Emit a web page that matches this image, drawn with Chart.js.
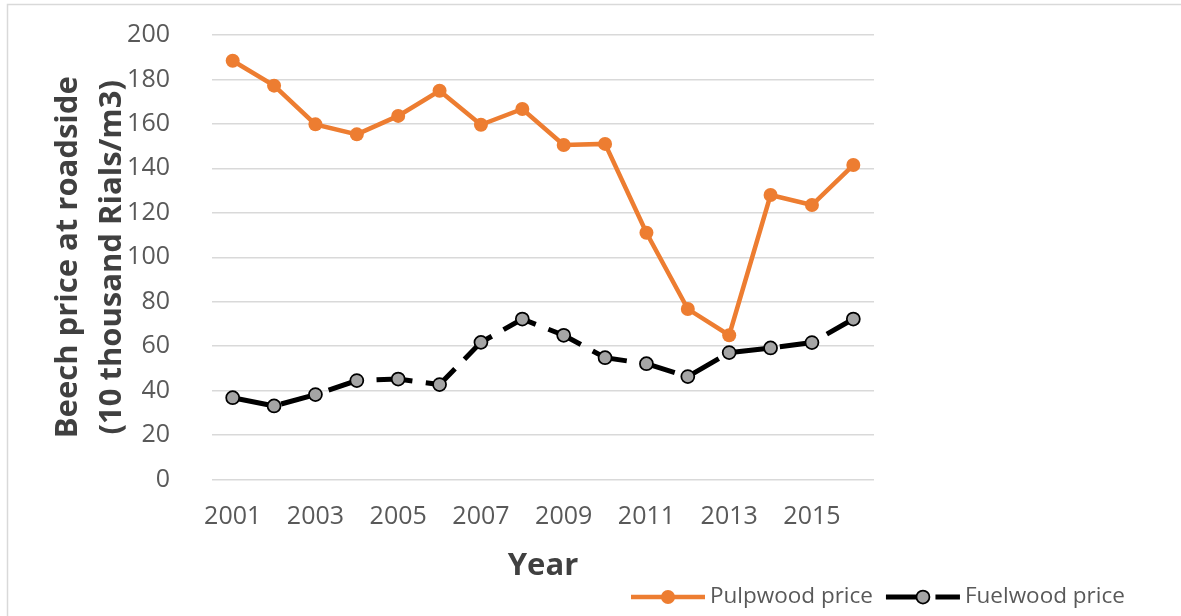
<!DOCTYPE html>
<html>
<head>
<meta charset="utf-8">
<script src="https://cdn.jsdelivr.net/npm/chart.js@4.4.1/dist/chart.umd.min.js"></script>
<style>
  html, body { margin: 0; padding: 0; background: #fff; }
  #wrap { position: relative; width: 1181px; height: 616px; }
</style>
</head>
<body>
<div id="wrap"><canvas id="beechChart" width="1181" height="616"></canvas></div>
<script>
const years = ['2001','2002','2003','2004','2005','2006','2007','2008',
               '2009','2010','2011','2012','2013','2014','2015','2016'];
const pulpwoodPrice = [188.4, 177.2, 159.8, 155.3, 163.6, 174.9, 159.6, 166.7,
                       150.5, 151.0, 111.0, 76.7, 64.9, 128.0, 123.5, 141.5];
const fuelwoodPrice = [36.8, 33.1, 38.2, 44.5, 45.2, 42.7, 61.7, 72.2,
                       64.9, 54.8, 52.1, 46.3, 57.1, 59.2, 61.6, 72.2];
const yTicks = [0, 20, 40, 60, 80, 100, 120, 140, 160, 180, 200];

const FONT = "'Open Sans', 'Noto Sans', sans-serif";
const ORANGE = '#ED7D31';
const GREY   = '#A5A5A5';

// ——— frame + custom legend (line sample with marker in the middle) ———
const framePlugin = {
  id: 'frame',
  beforeDraw(chart) {
    const c = chart.ctx;
    c.save();
    c.fillStyle = '#fff';
    c.fillRect(0, 0, chart.width, chart.height);
    c.strokeStyle = '#d9d9d9';
    c.lineWidth = 1.5;
    c.beginPath();
    c.moveTo(7.5, chart.height);
    c.lineTo(7.5, 4.5);
    c.lineTo(chart.width, 4.5);
    c.stroke();
    c.restore();
  }
};

const legendPlugin = {
  id: 'lineLegend',
  afterDraw(chart) {
    const c = chart.ctx;
    const y = 597;
    let x = 631;
    c.save();
    c.font = '22.5px ' + FONT;
    c.textBaseline = 'middle';
    chart.data.datasets.forEach(ds => {
      const len = 74;
      c.strokeStyle = ds.borderColor;
      c.lineWidth = ds.borderWidth;
      c.setLineDash(ds.borderDash || []);
      c.beginPath();
      c.moveTo(x, y);
      c.lineTo(x + len, y);
      c.stroke();
      c.setLineDash([]);
      c.beginPath();
      c.arc(x + len / 2, y, ds.pointRadius, 0, Math.PI * 2);
      c.fillStyle = ds.pointBackgroundColor;
      c.fill();
      if (ds.pointBorderWidth) {
        c.lineWidth = ds.pointBorderWidth;
        c.strokeStyle = ds.pointBorderColor;
        c.stroke();
      }
      c.fillStyle = '#595959';
      c.fillText(ds.label, x + len + 5, y);
      x += len + 5 + c.measureText(ds.label).width + 13;
    });
    c.restore();
  }
};

new Chart(document.getElementById('beechChart'), {
  type: 'line',
  data: {
    labels: years,
    datasets: [{
      label: 'Pulpwood price',
      data: pulpwoodPrice,
      borderColor: ORANGE,
      borderWidth: 4.5,
      pointRadius: 7,
      pointBackgroundColor: ORANGE,
      pointBorderColor: ORANGE,
      pointBorderWidth: 0,
      tension: 0,
      fill: false
    }, {
      label: 'Fuelwood price',
      data: fuelwoodPrice,
      borderColor: '#000',
      borderWidth: 5,
      borderDash: [36, 13.5],
      pointRadius: 6.5,
      pointBackgroundColor: GREY,
      pointBorderColor: '#000',
      pointBorderWidth: 1.75,
      tension: 0,
      fill: false
    }]
  },
  options: {
    responsive: false,
    animation: false,
    events: [],
    layout: { padding: { left: 0, top: 35, right: 307, bottom: 0 } },
    plugins: { legend: { display: false }, tooltip: { enabled: false } },
    scales: {
      x: {
        offset: true,
        grid: { display: false, drawTicks: false },
        border: { display: false },
        afterFit: s => { s.height = 136.5; s.paddingLeft = 0; s.paddingRight = 0; },
        ticks: {
          autoSkip: false, maxRotation: 0, padding: 22,
          color: '#595959', font: { family: FONT, size: 25 },
          callback: function (v, i) { return i % 2 === 0 ? this.getLabelForValue(v) : ''; }
        },
        title: {
          display: true, text: 'Year', color: '#404040',
          font: { family: FONT, size: 31, weight: 'bold' },
          padding: { top: 0, bottom: 31 }
        }
      },
      y: {
        min: 0, max: 200,
        afterBuildTicks: s => { s.ticks = yTicks.map(v => ({ value: v })); },
        afterFit: s => { s.width = 212; s.paddingTop = 0; s.paddingBottom = 0; },
        grid: { color: '#d9d9d9', lineWidth: 1.5, drawTicks: false },
        border: { display: false },
        ticks: { padding: 42, color: '#595959', font: { family: FONT, size: 25 } },
        title: {
          display: true,
          text: ['Beech price at roadside', '(10 thousand Rials/m3)'],
          color: '#404040',
          font: { family: FONT, size: 31, weight: 'bold', lineHeight: 44 / 31 },
          padding: { top: 46, bottom: 0 }
        }
      }
    }
  },
  plugins: [framePlugin, legendPlugin]
});
</script>
</body>
</html>
